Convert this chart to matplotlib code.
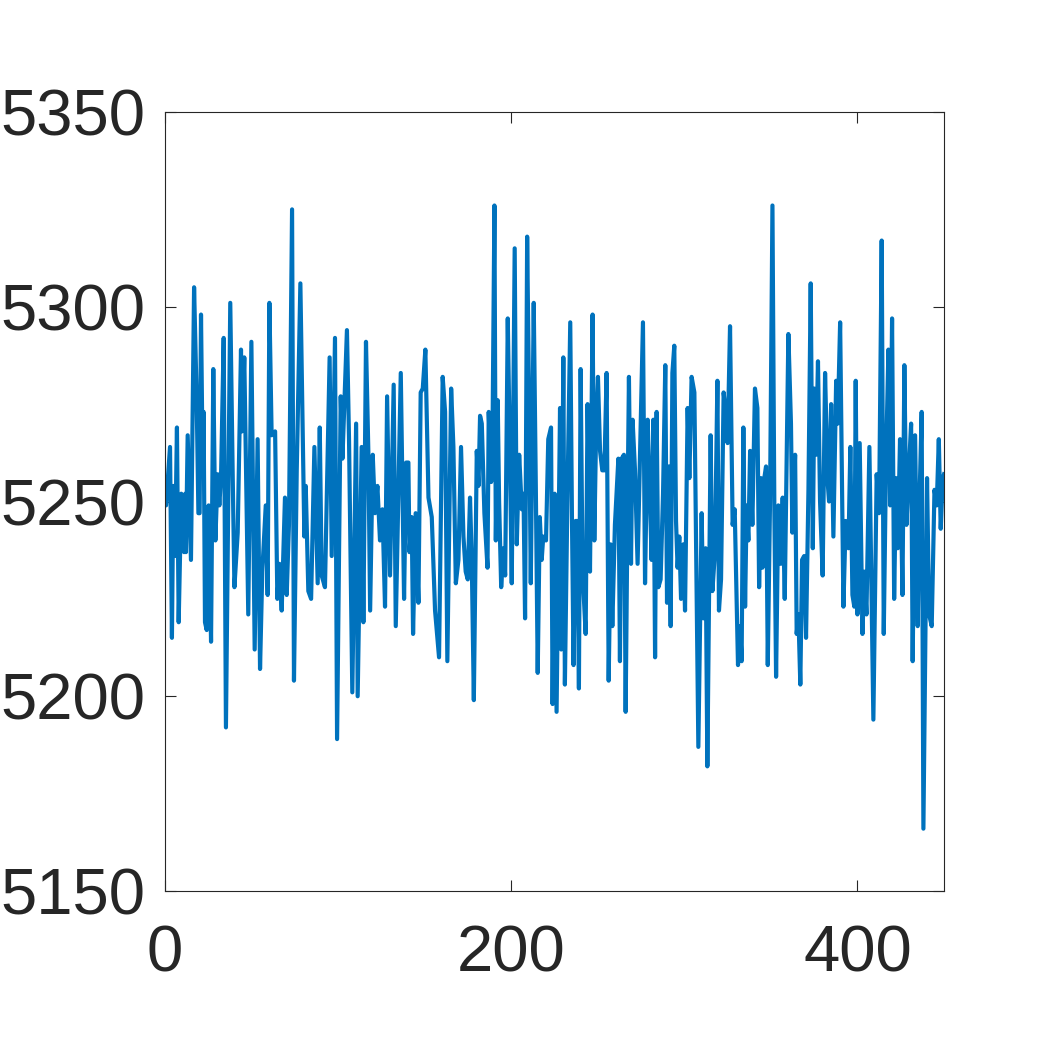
import matplotlib
matplotlib.use("Agg")
import matplotlib.pyplot as plt

x_vals = [0, 0.6, 2.9, 4.0, 4.8, 5.8, 6.9, 7.9, 9.4, 11, 11.7, 12.1, 13.1, 15, 16.8, 18.3, 19.3, 20, 20.8, 21.8,
          22.3, 23.1, 24.1, 25.2, 26.6, 27.9, 29.1, 30.4, 31.4, 32.4, 33.9, 35.2, 37.7, 39.1, 40.1, 42, 43.9, 44.5,
          45.8, 48.1, 49.9, 51.8,
          53.5, 54.9, 56.2, 58.2, 59.3, 60.3, 61.6, 63.6, 64.9, 66.1, 67.4, 69.3, 70.3, 71.6, 73.4, 74.5, 76.1,
          78.2, 80.5, 81.3, 82.8, 84.4, 86.3, 88.2, 89.4, 90.5, 92.4, 95.1, 96.3, 98.2, 99.4, 101.5, 102.5, 105.1,
          106.3, 108.2,
          110.4, 111.3, 113.6, 114.6, 116.1, 117.5, 118.5, 120, 121.3, 122.7, 124.2, 125.6, 127.1, 128.3, 130,
          132.1, 133.3, 136.2, 138.1, 139.3, 140.6, 141.2, 142.5, 143.3, 144.8, 146.4, 147.7, 148.9, 150.4, 152.2,
          154.1, 156, 158.3, 160.4, 161.8, 163.1,
          165.3, 166.6, 168, 169.5, 171, 172.4, 173.7, 174.9, 176.2, 177.2, 178.4, 180.1, 181.1, 182, 183, 184.5,
          186.3, 187, 188.4, 189.1, 190.3, 191.1, 192.2, 193, 194.2, 195.5, 196.5, 198, 199.4, 200.3, 202, 203.2,
          204.6, 206.1, 207.1, 208, 209.2, 210.3, 211.3, 213, 214.2, 215.3, 216.5,
          217.6, 218.5, 220.1, 221.4, 223, 223.9, 225.1, 226.2, 228.2, 228.9, 230.1, 231, 232.4, 234.1, 235.1, 236,
          237.2, 238.2, 239.1, 240.1, 241.2, 243, 244.1, 245.5, 247, 248, 249.1, 250.1, 251.3, 252.6, 253.8, 255.1,
          256.3, 257.4, 258.4, 259.9, 261.9, 262.8, 263.8, 265.1, 266.1, 267.1, 268, 269.2, 270.1,
          271.5, 273, 276.1, 277.3, 278.8, 280, 281.1, 282.1, 283.1, 284, 285, 286.3, 287.7, 289, 290, 291.1, 292.1,
          293.1, 294.2, 295.2, 296.1, 297.1, 298.1, 299.4, 300.4, 301.9, 302.9, 304.2, 305.8, 308.1, 310, 311,
          312.3, 313.3, 315.2, 316.2, 317.7, 319.1, 320, 321.2, 322.7, 323.9, 325, 326.4,
          327.9, 329.1, 331, 332.2, 333.1, 334.1, 335.1, 336, 337, 338, 339.3, 340.8, 342.2, 343.2, 344.3, 345.1,
          346.2, 347.2, 348.2, 349.5, 350.9, 352, 353, 354.3, 355.7, 356.8, 358, 360.1, 361.6, 362.4, 364, 364.9,
          365.9, 367, 368, 369.2, 370.3, 371.7, 373, 374.2, 375.1, 376.1, 377.2, 378.4, 379.9, 381.3,
          382.8, 383.6, 384.8, 386.1, 387.7, 388.6, 390, 391.9, 393.2, 394.8, 395.9, 397.1, 398.2, 399, 400, 401.3,
          402.9, 404, 405.2, 406.9, 409.2, 411.1, 412.5, 414, 415.2, 416.5, 417.9, 418.9, 420, 421.2, 422.3, 423.3,
          424.6, 426, 427.1, 428.3, 429.4, 431, 431.9, 433.3, 434.8, 436, 437.1, 438.1, 440.2, 441.4, 442.9, 444.5,
          445.8, 447, 448.1, 449.3, 450]

y_vals = [5250, 5249, 5264, 5215, 5254, 5236, 5269, 5219, 5252, 5237, 5252, 5237, 5267, 5235, 5305, 5276, 5247,
          5247, 5298, 5257, 5273, 5219, 5217, 5249, 5214, 5284, 5240, 5257, 5249, 5257, 5292, 5192, 5301, 5257,
          5228, 5242, 5289, 5268, 5287, 5221, 5291, 5212,
          5266, 5207, 5232, 5249, 5226, 5301, 5267, 5268, 5225, 5234, 5222, 5251, 5226, 5244, 5325, 5204, 5258,
          5306, 5241, 5254, 5227, 5225, 5264, 5229, 5269, 5231, 5228, 5287, 5236, 5292, 5189, 5277, 5261, 5294,
          5266, 5201,
          5270, 5200, 5264, 5219, 5291, 5262, 5222, 5262, 5247, 5254, 5240, 5248, 5223, 5277, 5231, 5280, 5218,
          5283, 5225, 5260, 5260, 5237, 5246, 5216, 5247, 5224, 5278, 5279, 5289, 5251, 5246, 5222, 5210, 5282,
          5273, 5209,
          5279, 5264, 5229, 5235, 5264, 5241, 5232, 5230, 5251, 5235, 5199, 5263, 5254, 5272, 5270, 5247, 5233,
          5273, 5255, 5262, 5326, 5240, 5276, 5250, 5228, 5238, 5231, 5297, 5257, 5229, 5315, 5239, 5262, 5248,
          5252, 5220, 5318, 5275, 5229, 5301, 5254, 5206, 5246,
          5235, 5241, 5240, 5266, 5269, 5198, 5252, 5196, 5274, 5212, 5287, 5203, 5249, 5296, 5245, 5208, 5245,
          5245, 5202, 5284, 5232, 5216, 5275, 5232, 5298, 5240, 5270, 5282, 5263, 5258, 5258, 5283, 5204, 5239,
          5218, 5244, 5261, 5209, 5261, 5262, 5196, 5244, 5282, 5234, 5271,
          5258, 5234, 5296, 5229, 5271, 5253, 5235, 5271, 5210, 5273, 5228, 5230, 5252, 5285, 5224, 5259, 5218,
          5283, 5290, 5245, 5233, 5241, 5225, 5239, 5222, 5274, 5256, 5282, 5278, 5187, 5247, 5220, 5238, 5182,
          5267, 5227, 5237, 5281, 5222, 5230, 5278, 5273, 5265, 5295,
          5244, 5248, 5208, 5218, 5209, 5269, 5223, 5249, 5240, 5263, 5244, 5279, 5274, 5228, 5256, 5233, 5256,
          5259, 5208, 5250, 5326, 5248, 5205, 5249, 5234, 5251, 5225, 5293, 5270, 5242, 5262, 5216, 5221, 5203,
          5235, 5236, 5215, 5253, 5306, 5238, 5279, 5262, 5286, 5250, 5231, 5283,
          5255, 5250, 5275, 5241, 5281, 5270, 5296, 5223, 5245, 5238, 5264, 5226, 5223, 5281, 5221, 5265, 5216,
          5232, 5221, 5264, 5194, 5257, 5247, 5317, 5216, 5260, 5289, 5249, 5297, 5225, 5256, 5238, 5266, 5226,
          5285, 5244, 5255, 5270, 5209, 5267, 5218, 5253, 5273, 5166, 5256, 5221, 5218, 5253, 5249, 5266, 5243,
          5256, 5257]

x_ticks = [0, 200, 400]
y_ticks = [5150, 5200, 5250, 5300, 5350]

plt.rcParams['font.family'] = ['Liberation Sans', 'DejaVu Sans']
fig = plt.figure(figsize=(10.43, 10.42), dpi=100)
ax = fig.add_axes([165/1043, 151/1042, 779/1043, 779/1042])
ax.plot(x_vals, y_vals, color='#0072BD', linewidth=3.0, solid_joinstyle='round')
ax.set_xlim(0, 450)
ax.set_ylim(5150, 5350)
ax.set_xticks(x_ticks)
ax.set_yticks(y_ticks)
ax.tick_params(direction='in', length=8, width=0.8, top=True, right=True,
               labelsize=47, colors='#262626')
ax.tick_params(axis='x', pad=24)
ax.tick_params(axis='y', pad=14)
for s in ax.spines.values():
    s.set_color('#262626')
    s.set_linewidth(0.8)
fig.savefig('out.png', dpi=100)
